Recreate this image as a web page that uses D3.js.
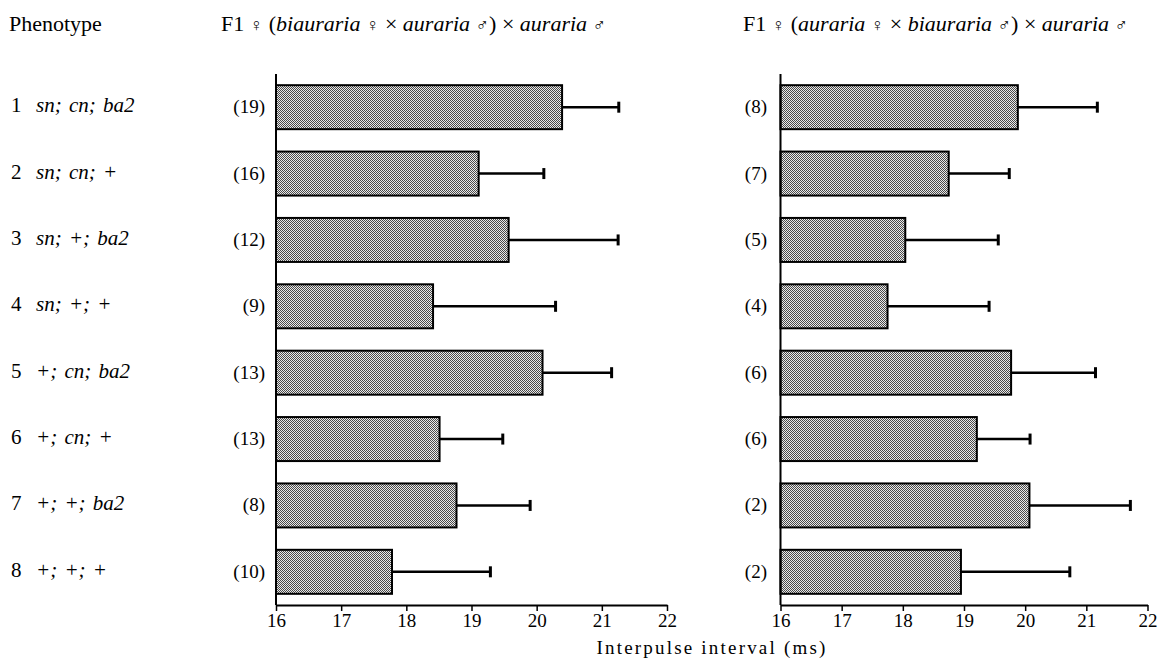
<!DOCTYPE html>
<html>
<head>
<meta charset="utf-8">
<script src="https://cdn.jsdelivr.net/npm/d3@7"></script>
<style>
  body { margin: 0; background: #fff; }
  svg text { font-family: "Liberation Serif", "Times New Roman", serif; fill: #000; }
</style>
</head>
<body>
<svg id="chart" width="1159" height="666"></svg>
<script>
// row labels
var phenotypes = ["sn; cn; ba2", "sn; cn; +", "sn; +; ba2", "sn; +; +",
                  "+; cn; ba2", "+; cn; +", "+; +; ba2", "+; +; +"];
var rowIds = [1, 2, 3, 4, 5, 6, 7, 8];

// F1 female (biauraria female x auraria male) x auraria male
var leftN = [19, 16, 12, 9, 13, 13, 8, 10];
var leftMeans = [20.39, 19.11, 19.57, 18.41, 20.09, 18.51, 18.77, 17.78];
var leftErr = [0.87, 1.00, 1.68, 1.88, 1.06, 0.97, 1.13, 1.51];

// F1 female (auraria female x biauraria male) x auraria male
var rightN = [8, 7, 5, 4, 6, 6, 2, 2];
var rightMeans = [19.88, 18.75, 18.04, 17.75, 19.77, 19.21, 20.07, 18.95];
var rightErr = [1.30, 0.99, 1.52, 1.66, 1.38, 0.87, 1.65, 1.78];

var xTicks = [16, 17, 18, 19, 20, 21, 22];

var svg = d3.select("#chart");

// stippled fill like the printed bars
var pat = svg.append("defs").append("pattern")
  .attr("id", "stipple")
  .attr("width", 2)
  .attr("height", 2)
  .attr("patternUnits", "userSpaceOnUse");
pat.append("rect").attr("width", 2).attr("height", 2).attr("fill", "#eaeaea");
pat.append("rect").attr("x", 0).attr("y", 0).attr("width", 1).attr("height", 1).attr("fill", "#4a4a4a");
pat.append("rect").attr("x", 1).attr("y", 1).attr("width", 1).attr("height", 1).attr("fill", "#4a4a4a");

var yScale = d3.scaleBand()
  .domain(rowIds)
  .range([74, 605])
  .paddingInner(0.337)
  .paddingOuter(0.1685);

var axisY = 605;

// headers
svg.append("text")
  .attr("x", 9).attr("y", 31)
  .style("font-size", "22px")
  .text("Phenotype");

function header(x, parts) {
  var t = svg.append("text")
    .attr("x", x).attr("y", 31)
    .style("font-size", "22px");
  parts.forEach(function(p) {
    t.append("tspan")
      .style("font-style", p[1] == 1 ? "italic" : "normal")
      .style("font-size", p[1] == 2 ? "18px" : null)
      .text(p[0]);
  });
}
header(221, [["F1 ", 0], ["\u2640", 2], [" (", 0], ["biauraria", 1], [" ", 0], ["\u2640", 2], [" \u00d7 ", 0], ["auraria", 1], [" ", 0], ["\u2642", 2], [") \u00d7 ", 0], ["auraria", 1], [" ", 0], ["\u2642", 2]]);
header(743, [["F1 ", 0], ["\u2640", 2], [" (", 0], ["auraria", 1], [" ", 0], ["\u2640", 2], [" \u00d7 ", 0], ["biauraria", 1], [" ", 0], ["\u2642", 2], [") \u00d7 ", 0], ["auraria", 1], [" ", 0], ["\u2642", 2]]);

// phenotype labels
var rows = svg.append("g").selectAll("g")
  .data(rowIds)
  .join("g")
  .attr("transform", function(d) { return "translate(0," + (yScale(d) + yScale.bandwidth() / 2 + 5) + ")"; });
rows.append("text")
  .attr("x", 11)
  .style("font-size", "21px")
  .text(function(d) { return d; });
rows.append("text")
  .attr("x", 36)
  .style("font-size", "21px")
  .style("font-style", "italic")
  .style("word-spacing", "2px")
  .text(function(d, i) { return phenotypes[i]; });

function panel(x0, x1, nRight, means, errs, ns) {
  var xScale = d3.scaleLinear().domain([16, 22]).range([x0, x1]);
  var g = svg.append("g");
  var data = rowIds.map(function(id, i) { return { id: id, m: means[i], e: errs[i], n: ns[i] }; });

  // error bars (upper only)
  g.selectAll(".err")
    .data(data)
    .join("line")
    .attr("x1", function(d) { return xScale(d.m); })
    .attr("x2", function(d) { return xScale(d.m + d.e); })
    .attr("y1", function(d) { return yScale(d.id) + yScale.bandwidth() / 2; })
    .attr("y2", function(d) { return yScale(d.id) + yScale.bandwidth() / 2; })
    .attr("stroke", "#000")
    .attr("stroke-width", 2.5);
  g.selectAll(".cap")
    .data(data)
    .join("line")
    .attr("x1", function(d) { return xScale(d.m + d.e); })
    .attr("x2", function(d) { return xScale(d.m + d.e); })
    .attr("y1", function(d) { return yScale(d.id) + yScale.bandwidth() / 2 - 5.5; })
    .attr("y2", function(d) { return yScale(d.id) + yScale.bandwidth() / 2 + 5.5; })
    .attr("stroke", "#000")
    .attr("stroke-width", 3);

  g.selectAll("rect")
    .data(data)
    .join("rect")
    .attr("x", xScale(16))
    .attr("y", function(d) { return yScale(d.id); })
    .attr("width", function(d) { return xScale(d.m) - xScale(16); })
    .attr("height", yScale.bandwidth())
    .attr("fill", "url(#stipple)")
    .attr("stroke", "#000")
    .attr("stroke-width", 2);

  // sample sizes
  g.selectAll(".n")
    .data(data)
    .join("text")
    .attr("x", nRight)
    .attr("y", function(d) { return yScale(d.id) + yScale.bandwidth() / 2 + 6; })
    .attr("text-anchor", "end")
    .style("font-size", "19px")
    .text(function(d) { return "(" + d.n + ")"; });

  // vertical axis line
  g.append("line")
    .attr("x1", x0).attr("x2", x0)
    .attr("y1", yScale.range()[0]).attr("y2", axisY)
    .attr("stroke", "#000")
    .attr("stroke-width", 2);

  var ax = g.append("g")
    .attr("transform", "translate(0," + axisY + ")")
    .call(d3.axisBottom(xScale).tickValues(xTicks).tickFormat(d3.format("d")).tickSize(6).tickSizeOuter(0).tickPadding(3));
  ax.select(".domain").attr("stroke-width", 2);
  ax.selectAll(".tick line").attr("stroke-width", 1.5);
  ax.selectAll("text")
    .attr("font-family", null)
    .style("font-size", "19px");
}

panel(276, 667, 265, leftMeans, leftErr, leftN);
panel(780.5, 1147.5, 767, rightMeans, rightErr, rightN);

svg.append("text")
  .attr("x", 712).attr("y", 654)
  .attr("text-anchor", "middle")
  .style("font-size", "19px")
  .style("letter-spacing", "2.2px")
  .text("Interpulse interval (ms)");
</script>
</body>
</html>
